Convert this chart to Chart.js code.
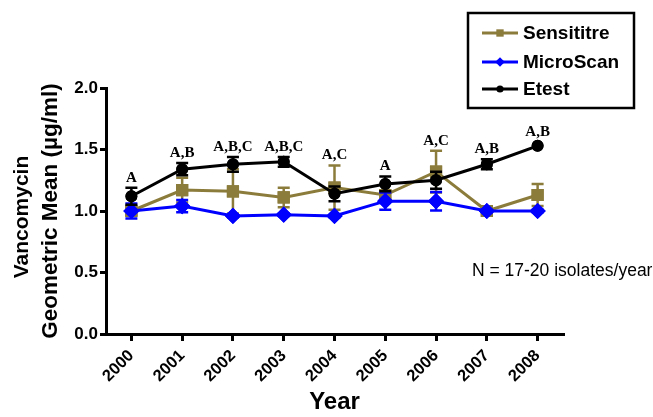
<!DOCTYPE html>
<html>
<head>
<meta charset="utf-8">
<script src="https://cdn.jsdelivr.net/npm/chart.js@4.4.0/dist/chart.umd.min.js"></script>
<style>
  html, body { margin: 0; padding: 0; background: #fff; }
  #wrap { width: 653px; height: 417px; position: relative; }
</style>
</head>
<body>
<div id="wrap"><canvas id="mgChart"></canvas></div>
<script>
const years = ['2000', '2001', '2002', '2003', '2004', '2005', '2006', '2007', '2008'];

const sensititre    = [1.00, 1.17, 1.16, 1.11, 1.19, 1.13, 1.32, 1.00, 1.13];
const sensititreErr = [0.03, 0.10, 0.18, 0.08, 0.18, 0.03, 0.17, 0.02, 0.09];

const microscan    = [1.00, 1.04, 0.96, 0.97, 0.96, 1.08, 1.08, 1.00, 1.00];
const microscanErr = [0.06, 0.05, 0.01, 0.01, 0.01, 0.07, 0.075, 0.01, 0.01];

const etest    = [1.12, 1.34, 1.38, 1.40, 1.14, 1.22, 1.25, 1.38, 1.53];
const etestErr = [0.07, 0.05, 0.06, 0.04, 0.06, 0.06, 0.07, 0.04, 0];

const sigLetters = ['A', 'A,B', 'A,B,C', 'A,B,C', 'A,C', 'A', 'A,C', 'A,B', 'A,B'];

const yTicks = [0, 0.5, 1.0, 1.5, 2.0];
const yTitle = ['Vancomycin', 'Geometric Mean (\u00b5g/ml)'];
const noteText = 'N = 17-20 isolates/year';

const OLIVE = '#8c7c3c';
const SANS = '"Liberation Sans", Arial, sans-serif';

// error bars, drawn right after each dataset so the layering stays right
const errorBars = {
    id: 'errorBars',
    afterDatasetDraw(chart, args) {
        const ds = chart.data.datasets[args.index];
        if (!ds.errors) return;
        const ctx = chart.ctx;
        const y = chart.scales.y;
        ctx.save();
        ctx.strokeStyle = ds.borderColor;
        ctx.lineWidth = 2.5;
        args.meta.data.forEach((pt, i) => {
            const e = ds.errors[i];
            if (!e) return;
            const top = y.getPixelForValue(ds.data[i] + e);
            const bot = y.getPixelForValue(ds.data[i] - e);
            ctx.beginPath();
            ctx.moveTo(pt.x, top); ctx.lineTo(pt.x, bot);
            ctx.moveTo(pt.x - 6, top); ctx.lineTo(pt.x + 6, top);
            ctx.moveTo(pt.x - 6, bot); ctx.lineTo(pt.x + 6, bot);
            ctx.stroke();
        });
        // redraw points on top of the bars
        args.meta.data.forEach(pt => pt.draw(ctx, chart.chartArea));
        ctx.restore();
    },
    afterDatasetsDraw(chart) {
        // significance letters above the highest mark of each year
        const ctx = chart.ctx;
        const x = chart.scales.x, y = chart.scales.y;
        ctx.save();
        ctx.font = 'bold 15px "Liberation Serif", "Times New Roman", serif';
        ctx.fillStyle = '#000';
        ctx.textAlign = 'center';
        ctx.textBaseline = 'middle';
        sigLetters.forEach((txt, i) => {
            let top = Infinity;
            chart.data.datasets.forEach(ds => {
                const e = ds.errors ? ds.errors[i] : 0;
                top = Math.min(top, y.getPixelForValue(ds.data[i] + e), y.getPixelForValue(ds.data[i]) - 4);
            });
            ctx.fillText(txt, x.getPixelForValue(i), top - 10);
        });
        ctx.restore();
    }
};

const boxLegend = {
    id: 'boxLegend',
    afterDraw(chart) {
        const ctx = chart.ctx;
        ctx.save();
        ctx.lineWidth = 2.5;
        ctx.strokeStyle = '#000';
        ctx.strokeRect(468, 13, 166, 95);
        const rows = [33, 62, 89];
        chart.data.datasets.forEach((ds, i) => {
            const ry = rows[i];
            ctx.strokeStyle = ds.borderColor;
            ctx.lineWidth = 3;
            ctx.beginPath();
            ctx.moveTo(482, ry); ctx.lineTo(518, ry);
            ctx.stroke();
            ctx.fillStyle = ds.borderColor;
            Chart.helpers.drawPoint(ctx, {
                pointStyle: ds.pointStyle, radius: ds.pointRadius * 0.8, rotation: 0, borderWidth: 0
            }, 500, ry);
            ctx.fillStyle = '#000';
            ctx.font = 'bold 19px ' + SANS;
            ctx.textAlign = 'left';
            ctx.textBaseline = 'middle';
            ctx.fillText(ds.label, 523, ry + 1);
        });
        ctx.font = '17.5px ' + SANS;
        ctx.textBaseline = 'middle';
        ctx.fillText(noteText, 472, 271);

        // y axis title, two lines
        const area = chart.chartArea;
        const cy = (area.top + area.bottom) / 2;
        ctx.fillStyle = '#000';
        ctx.textAlign = 'center';
        ctx.translate(0, cy);
        ctx.rotate(-Math.PI / 2);
        ctx.font = 'bold 21px ' + SANS;
        ctx.fillText(yTitle[0], -6, 22);
        ctx.font = 'bold 22.5px ' + SANS;
        ctx.fillText(yTitle[1], 0, 51);
        ctx.restore();
    }
};

new Chart(document.getElementById('mgChart'), {
    type: 'line',
    data: {
        labels: years,
        datasets: [{
            label: 'Sensititre',
            data: sensititre,
            errors: sensititreErr,
            borderColor: OLIVE,
            backgroundColor: OLIVE,
            pointStyle: 'rect',
            pointRadius: 6.5,
            borderWidth: 3,
            order: 3
        }, {
            label: 'MicroScan',
            data: microscan,
            errors: microscanErr,
            borderColor: '#0000ff',
            backgroundColor: '#0000ff',
            pointStyle: 'rectRot',
            pointRadius: 6,
            borderWidth: 3,
            order: 2
        }, {
            label: 'Etest',
            data: etest,
            errors: etestErr,
            borderColor: '#000000',
            backgroundColor: '#000000',
            pointStyle: 'circle',
            pointRadius: 4.5,
            borderWidth: 3,
            order: 1
        }]
    },
    options: {
        responsive: true,
        maintainAspectRatio: false,
        animation: false,
        events: [],
        layout: { padding: { top: 88, right: 90, left: 0, bottom: 0 } },
        elements: {
            line: { tension: 0 },
            point: { borderWidth: 0, hoverRadius: 0 }
        },
        plugins: {
            legend: { display: false },
            tooltip: { enabled: false }
        },
        scales: {
            x: {
                type: 'category',
                offset: true,
                afterFit: s => { s.height = 83; },
                grid: { display: true, drawOnChartArea: false, color: '#000', lineWidth: 3, tickLength: 7, offset: false },
                border: { display: true, color: '#000', width: 3 },
                ticks: { color: '#000', font: { family: SANS, weight: 'bold', size: 16.5 }, maxRotation: 45, minRotation: 45, padding: 5 },
                title: {
                    display: true, text: 'Year', color: '#000',
                    font: { family: SANS, weight: 'bold', size: 24 },
                    padding: { top: 0, bottom: 0 }
                }
            },
            y: {
                min: 0,
                max: 2.0,
                afterFit: s => { s.width = 106; },
                afterBuildTicks: s => { s.ticks = yTicks.map(v => ({ value: v })); },
                grid: { display: true, drawOnChartArea: false, color: '#000', lineWidth: 3, tickLength: 6 },
                border: { display: true, color: '#000', width: 3 },
                ticks: {
                    color: '#000', font: { family: SANS, weight: 'bold', size: 17 },
                    padding: 2,
                    callback: v => v.toFixed(1)
                },
                title: { display: false }
            }
        }
    },
    plugins: [errorBars, boxLegend]
});
</script>
</body>
</html>
